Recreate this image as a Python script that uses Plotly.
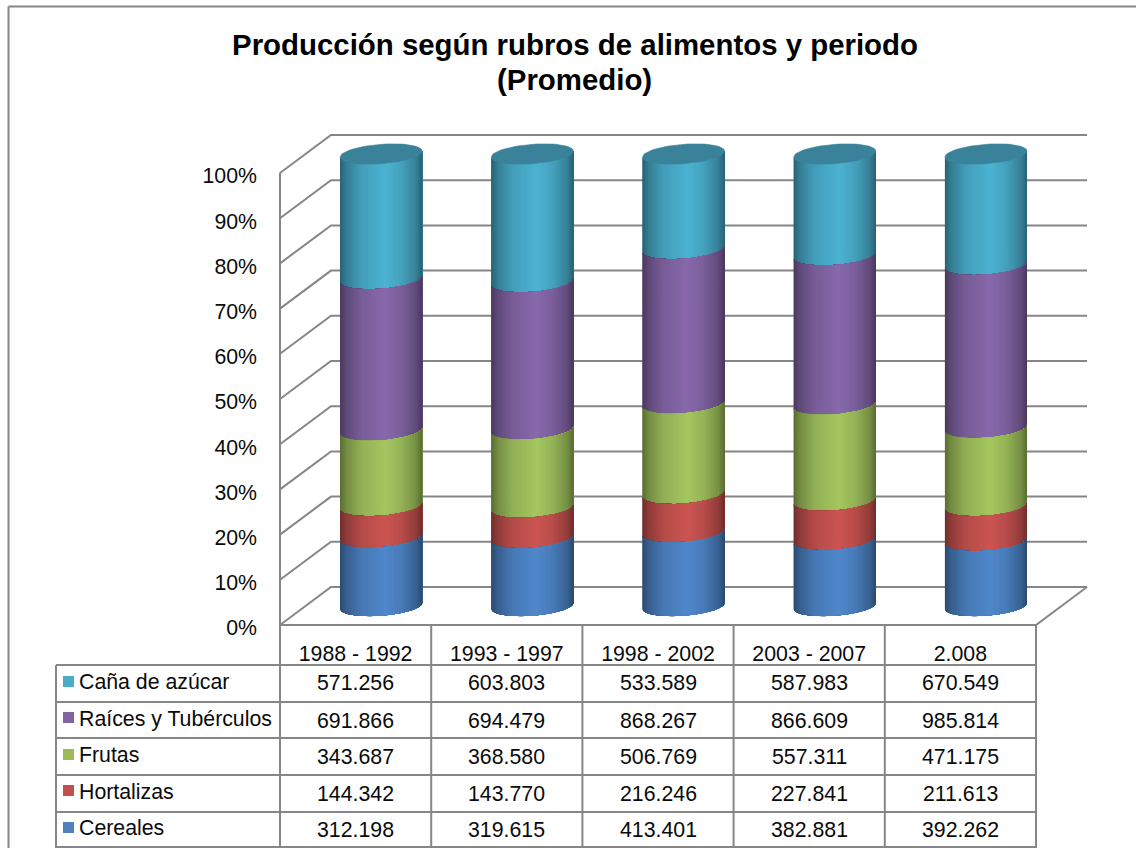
import numpy as np
import plotly.graph_objects as go

periods = ["1988 - 1992", "1993 - 1997", "1998 - 2002", "2003 - 2007", "2.008"]
cereales = [312198, 319615, 413401, 382881, 392262]
hortalizas = [144342, 143770, 216246, 227841, 211613]
frutas = [343687, 368580, 506769, 557311, 471175]
raices = [691866, 694479, 868267, 866609, 985814]
cana = [571256, 603803, 533589, 587983, 670549]
series_names = ["Cereales", "Hortalizas", "Frutas", "Raíces y Tubérculos", "Caña de azúcar"]
series_values = [cereales, hortalizas, frutas, raices, cana]
legend_colors = ["#4F81BD", "#C0504D", "#9BBB59", "#8064A2", "#4BACC6"]
body_colors = ["#5088CC", "#CC5552", "#A5C760", "#8869AC", "#4CB3D3"]
percent_ticks = list(range(0, 101, 10))
title_lines = ["Producción según rubros de alimentos y periodo", "(Promedio)"]

# ---- layout constants (pixels of the 1136x848 page) ----
W, H = 1136, 848
GRID = "#868686"
TEXT = "#0A0A0A"
FONT = "Liberation Sans"
PX_CAT = 151.2
PX_PCT = 4.52
X0, Y0 = 280, 625
DEPTH_X = 51 / PX_CAT
DEPTH_Y = 38 / PX_PCT
A = 41 / PX_CAT
B = 9.7 / PX_PCT
S = 3.0 / PX_PCT
FS = 21.3


def fx(p):
    return p / W


def fy(p):
    return 1 - p / H


values = np.array(series_values, dtype=float)
shares = values / values.sum(axis=0) * 100
cum = np.vstack([np.zeros(len(periods)), np.cumsum(shares, axis=0)])

fig = go.Figure()

# gridlines: side wall + back wall, and floor
gx, gy = [], []
for v in percent_ticks:
    gx += [-0.5, -0.5 + DEPTH_X, 4.5 + DEPTH_X, None]
    gy += [v, v + DEPTH_Y, v + DEPTH_Y, None]
gx += [-0.5, -0.5, None, -0.5, 4.5, 4.5 + DEPTH_X]
gy += [0, 100, None, 0, 0, DEPTH_Y]
fig.add_trace(go.Scatter(x=gx, y=gy, mode="lines", line=dict(color=GRID, width=2),
                         hoverinfo="skip", showlegend=False))


def shade(color, f):
    r, g, b = int(color[1:3], 16), int(color[3:5], 16), int(color[5:7], 16)
    return "rgb(%d,%d,%d)" % (r * f, g * f, b * f)


def front(c, t):
    return c - B * np.sin(t) + S * np.cos(t)


ts = np.linspace(np.pi, 0, 49)
us = np.cos(ts)
prof_u = [-1, -0.85, -0.5, 0.1, 0.5, 0.85, 1]
prof_f = [0.55, 0.70, 0.88, 1.0, 0.90, 0.72, 0.55]

# painted top series first, each strip reaching the right edge so no seams show
for s in reversed(range(len(series_names))):
    name = series_names[s]
    for k in range(len(ts) - 1):
        f = float(np.interp((us[k] + us[k + 1]) / 2, prof_u, prof_f))
        col = shade(body_colors[s], f)
        px_, py_ = [], []
        tk = ts[k:]
        for i in range(len(periods)):
            cx = i + DEPTH_X / 2
            lo = max(cum[s, i] - 0.4, 0) + DEPTH_Y / 2
            hi = cum[s + 1, i] + DEPTH_Y / 2
            xs = cx + A * np.cos(tk)
            px_ += list(xs) + list(xs[::-1]) + [None]
            py_ += list(front(lo, tk)) + list(front(hi, tk[::-1])) + [None]
        fig.add_trace(go.Scatter(x=px_, y=py_, mode="lines", fill="toself", fillcolor=col,
                                 line=dict(width=0), name=name,
                                 hoverinfo="skip", showlegend=False))

# top caps
tt = np.linspace(0, 2 * np.pi, 73)
for i in range(len(periods)):
    cx = i + DEPTH_X / 2
    c = cum[-1, i] + DEPTH_Y / 2
    fig.add_trace(go.Scatter(x=cx + A * np.cos(tt), y=c + B * np.sin(tt) + S * np.cos(tt),
                             mode="lines", fill="toself", fillcolor="#3A8299",
                             line=dict(color="#3A8299", width=0.6),
                             hoverinfo="skip", showlegend=False))

# frame and table rules
shapes = []


def rule(x0, y0, x1, y1, width=2):
    shapes.append(dict(type="line", xref="paper", yref="paper", x0=fx(x0), y0=fy(y0),
                       x1=fx(x1), y1=fy(y1), line=dict(color=GRID, width=width)))


rule(8.5, 6.5, 8.5, H)
rule(8.5, 6.5, W, 6.5)
row_lines = [665, 702, 738, 775, 812, 847]
for y in row_lines:
    rule(56, y, 1036, y)
rule(56, 665, 56, H)
for i in range(6):
    xp = 280 + PX_CAT * i
    rule(xp, Y0, xp, H)

# table text
annotations = []
row_centers = [683, 721, 757, 794, 829.5]
label_centers = [682, 719, 755, 792, 828]
swatch_tops = [676, 712, 749, 785, 822]
order = [4, 3, 2, 1, 0]
for r, s in enumerate(order):
    shapes.append(dict(type="rect", xref="paper", yref="paper", x0=fx(63), x1=fx(74),
                       y0=fy(swatch_tops[r]), y1=fy(swatch_tops[r] + 11),
                       fillcolor=legend_colors[s], line=dict(width=0)))
    annotations.append(dict(xref="paper", yref="paper", x=fx(77), y=fy(label_centers[r]),
                            text=series_names[s], showarrow=False, xanchor="left", yanchor="middle",
                            font=dict(family=FONT, size=FS, color=TEXT)))
    for i in range(len(periods)):
        txt = f"{series_values[s][i]:,}".replace(",", ".")
        annotations.append(dict(xref="x", yref="paper", x=i, y=fy(row_centers[r]), text=txt,
                                showarrow=False, xanchor="center", yanchor="middle",
                                font=dict(family=FONT, size=FS, color=TEXT)))

# second title line
annotations.append(dict(xref="paper", yref="paper", x=fx(574), y=fy(79.5), text=f"<b>{title_lines[1]}</b>",
                        showarrow=False, xanchor="center", yanchor="middle",
                        font=dict(family=FONT, size=29.4, color="#000000")))

fig.update_layout(
    width=W, height=H, autosize=False,
    margin=dict(l=0, r=0, t=0, b=0, pad=0),
    paper_bgcolor="white", plot_bgcolor="white",
    showlegend=False,
    font=dict(family=FONT, color=TEXT),
    title=dict(text=f"<b>{title_lines[0]}</b>",
               x=575 / W, xanchor="center", y=fy(45), yanchor="middle",
               font=dict(family=FONT, size=29.4, color="#000000")),
    xaxis=dict(domain=[0, 1], range=[(0 - X0) / PX_CAT - 0.5, (W - X0) / PX_CAT - 0.5],
               tickmode="array", tickvals=list(range(len(periods))), ticktext=periods,
               anchor="free", position=fy(639), side="bottom", showgrid=False, zeroline=False,
               showline=False, ticks="", tickfont=dict(family=FONT, size=FS, color=TEXT)),
    yaxis=dict(domain=[0, 1], range=[(Y0 - H) / PX_PCT, Y0 / PX_PCT],
               tickmode="array", tickvals=percent_ticks, ticktext=[f"{v}%" for v in percent_ticks],
               anchor="free", position=fx(257), side="left", showgrid=False, zeroline=False,
               showline=False, ticks="", ticklabelshift=3,
               tickfont=dict(family=FONT, size=FS, color=TEXT)),
    shapes=shapes, annotations=annotations,
)

fig.write_html("out.html", include_plotlyjs=True, config=dict(displayModeBar=False),
               post_script="document.body.style.margin='0';document.body.style.overflow='hidden';")
